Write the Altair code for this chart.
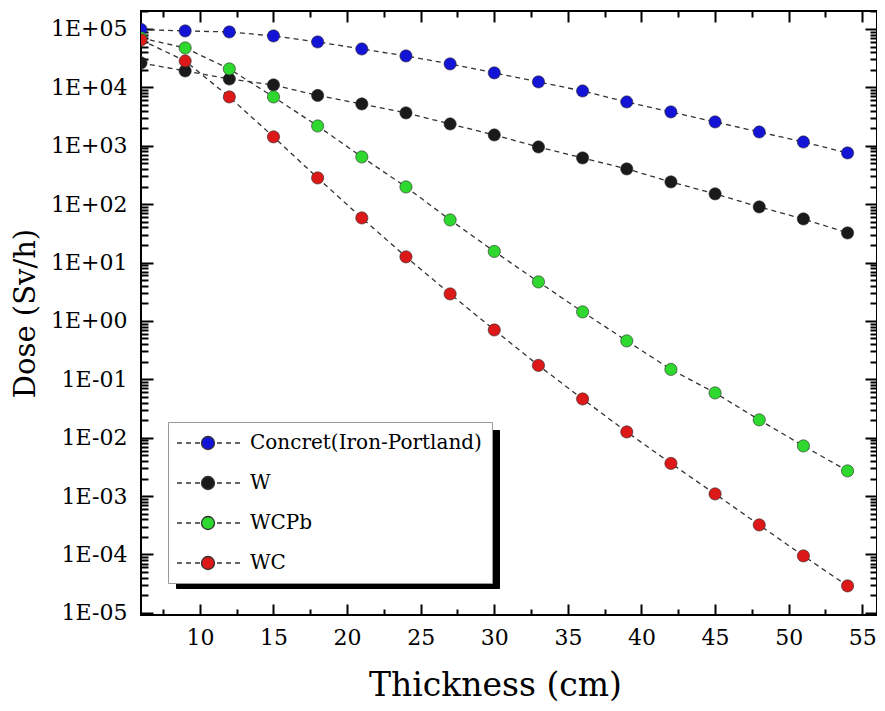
import altair as alt
import pandas as pd

# ---------------- data ----------------
thickness = [6, 9, 12, 15, 18, 21, 24, 27, 30, 33, 36, 39, 42, 45, 48, 51, 54]

concrete = [98000, 92500, 88900, 75900, 59900, 45400, 34500, 25200, 17700,
            12400, 8670, 5620, 3790, 2560, 1720, 1160, 753]
w_dose = [26200, 19100, 13900, 11000, 7260, 5200, 3650, 2360, 1530,
          953, 618, 401, 240, 150, 89.6, 55.8, 32.1]
wcpb = [70200, 47300, 20700, 6860, 2180, 643, 197, 53.6, 15.5,
        4.66, 1.43, 0.455, 0.148, 0.0585, 0.0202, 0.00724, 0.0027]
wc = [64900, 28300, 6860, 1420, 281, 58.1, 12.5, 2.90, 0.701,
      0.173, 0.0461, 0.01256, 0.00363, 0.00109, 0.000321, 9.46e-5, 2.9e-5]

series_names = ["Concret(Iron-Portland)", "W", "WCPb", "WC"]
series_values = [concrete, w_dose, wcpb, wc]
series_colors = ["#1414d6", "#1a1a1a", "#2ed82e", "#dc1818"]

x_major = [10, 15, 20, 25, 30, 35, 40, 45, 50, 55]
x_minor = [7.5, 12.5, 17.5, 22.5, 27.5, 32.5, 37.5, 42.5, 47.5, 52.5]
y_major = [1e-5, 1e-4, 1e-3, 1e-2, 1e-1, 1e0, 1e1, 1e2, 1e3, 1e4, 1e5]
y_minor = [k * m for m in y_major[:-1] for k in range(2, 10)] + [2e5]

x_domain = [6, 56]
y_domain = [9.2e-6, 2.03e5]

rows = []
for name, vals in zip(series_names, series_values):
    for t, v in zip(thickness, vals):
        rows.append({"x": t, "dose": v, "series": name, "shadow": name})
df = pd.DataFrame(rows)

FONT = "DejaVu Serif"

# legend symbol: dashed line with a ball in it
LEG_PATH = ("M-1.2,0L-0.7,0M-0.3,0L0.2,0M0.6,0L1.1,0"
            "M1.25,0A0.65,0.65,0,1,0,2.55,0A0.65,0.65,0,1,0,1.25,0Z"
            "M2.8,0L3.3,0M3.7,0L4.2,0M4.6,0L5.1,0")

xs = alt.Scale(domain=x_domain, nice=False, zero=False)
ys = alt.Scale(type="log", domain=y_domain, nice=False)

y_label_expr = ("'1E' + (datum.value >= 1 ? '+' : '-') + "
                "(abs(round(log(datum.value)/LN10)) < 10 ? '0' : '') + "
                "abs(round(log(datum.value)/LN10))")


def tick_axis(orient, values, size, labels=False, **kw):
    return alt.Axis(orient=orient, values=values, tickSize=size, offset=-size,
                    domain=False, grid=False, labels=labels, ticks=True,
                    tickColor="black", tickWidth=2, **kw)


base = alt.Chart(df)

lines = base.mark_line(strokeDash=[5, 4], color="#333333", strokeWidth=1.3, clip=True).encode(
    x=alt.X("x:Q", scale=xs,
            axis=tick_axis("bottom", x_major, 11, labels=True,
                           labelFont=FONT, labelFontSize=22, labelColor="black",
                           labelPadding=12, labelOverlap=False, labelFlush=False,
                           title="Thickness (cm)", titleFont=FONT, titleFontSize=33,
                           titleFontWeight="normal", titleColor="black",
                           titlePadding=21, titleX=354)),
    y=alt.Y("dose:Q", scale=ys,
            axis=tick_axis("left", y_major, 12, labels=True,
                           labelFont=FONT, labelFontSize=22, labelColor="black",
                           labelPadding=14, labelOverlap=False, labelExpr=y_label_expr,
                           title="Dose (Sv/h)", titleFont=FONT, titleFontSize=29,
                           titleFontWeight="normal", titleColor="black",
                           titlePadding=10)),
    detail="series:N",
    order="x:Q",
)

points = base.mark_point(filled=True, size=150, opacity=1, stroke="#2a2a2a",
                         strokeWidth=0.6, clip=True).encode(
    x=alt.X("x:Q", scale=xs, axis=tick_axis("top", x_major, 11, title=None)),
    y=alt.Y("dose:Q", scale=ys, axis=tick_axis("right", y_major, 12, title=None)),
    color=alt.Color("series:N",
                    scale=alt.Scale(domain=series_names, range=series_colors),
                    legend=alt.Legend(orient="none", legendX=27, legendY=411,
                                      direction="vertical", title=None,
                                      symbolType=LEG_PATH, symbolSize=400,
                                      symbolStrokeColor="#333333", symbolStrokeWidth=1.3,
                                      symbolOpacity=1,
                                      labelFont=FONT, labelFontSize=20, labelColor="black",
                                      labelOffset=50, labelLimit=400, rowPadding=19,
                                      padding=10, fillColor="white", strokeColor="#9a9a9a",
                                      zindex=2)),
)

minor_bl = base.mark_point(opacity=0, clip=True).encode(
    x=alt.X("x:Q", scale=xs, axis=tick_axis("bottom", x_minor, 6, title=None)),
    y=alt.Y("dose:Q", scale=ys, axis=tick_axis("left", y_minor, 7, title=None)),
    shape=alt.Shape("shadow:N",
                    scale=alt.Scale(range=[LEG_PATH] * 4),
                    legend=alt.Legend(orient="none", legendX=35, legendY=419,
                                      direction="vertical", title=None,
                                      symbolSize=400, symbolStrokeWidth=1.3,
                                      symbolOpacity=0, labelExpr="''",
                                      labelFont=FONT, labelFontSize=20, labelOpacity=0,
                                      labelOffset=281, labelLimit=400, rowPadding=18,
                                      padding=10, fillColor="black", strokeColor="black",
                                      zindex=1)),
)

minor_tr = base.mark_point(opacity=0, clip=True).encode(
    x=alt.X("x:Q", scale=xs, axis=tick_axis("top", x_minor, 6, title=None)),
    y=alt.Y("dose:Q", scale=ys, axis=tick_axis("right", y_minor, 7, title=None)),
)

chart = (
    alt.layer(lines, points, minor_bl, minor_tr)
    .resolve_axis(x="independent", y="independent")
    .properties(width=736, height=604,
                autosize=alt.AutoSizeParams(type="none"),
                padding={"left": 133, "top": 3, "right": 0, "bottom": 88},
                background="white")
    .configure_view(stroke="black", strokeWidth=2)
)

chart.save("out.html", embed_options={"renderer": "svg", "actions": False})
